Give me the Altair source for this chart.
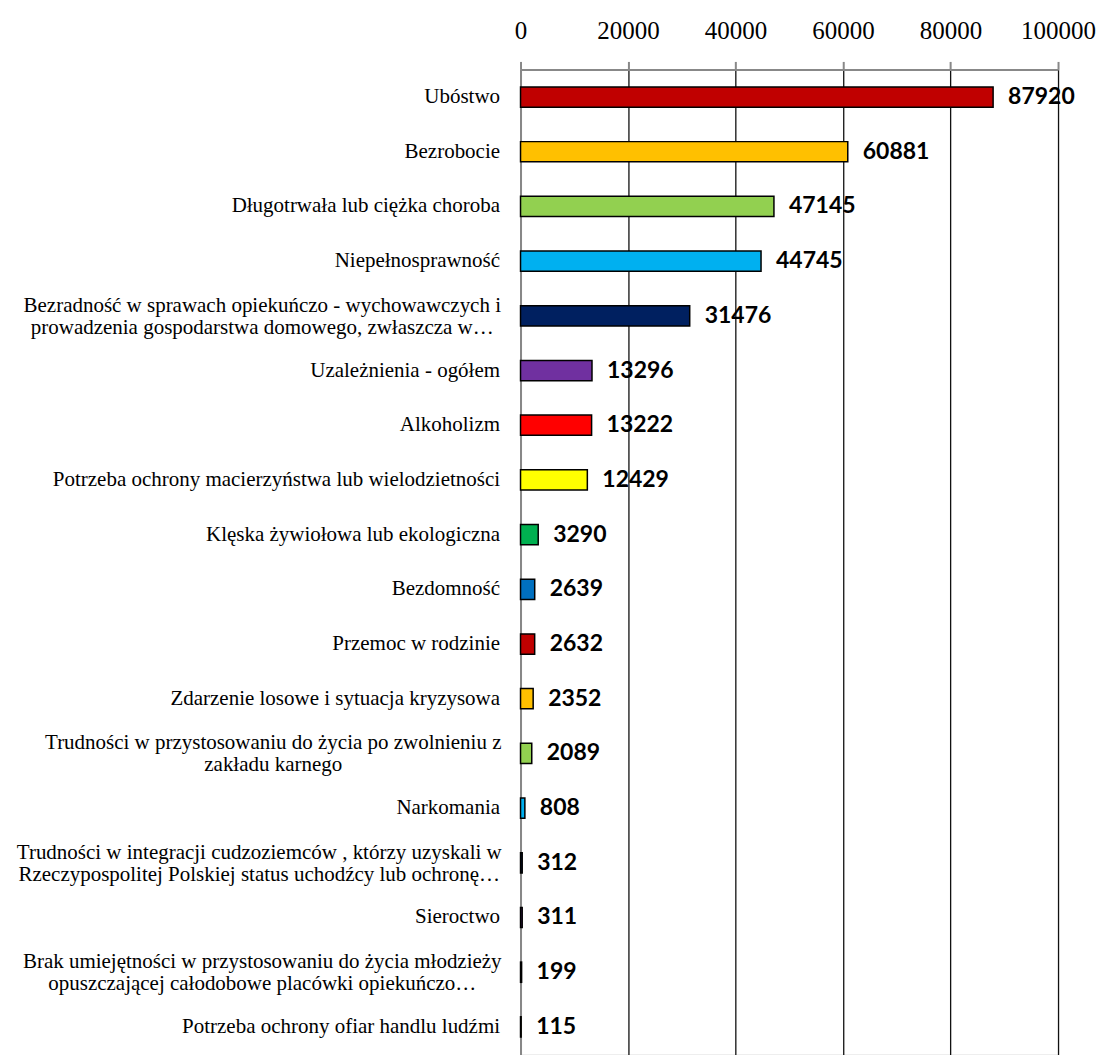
import altair as alt
import pandas as pd

categories = [
    "Ubóstwo",
    "Bezrobocie",
    "Długotrwała lub ciężka choroba",
    "Niepełnosprawność",
    "Bezradność w sprawach opiekuńczo - wychowawczych i|prowadzenia gospodarstwa domowego, zwłaszcza w…",
    "Uzależnienia - ogółem",
    "Alkoholizm",
    "Potrzeba ochrony macierzyństwa lub wielodzietności",
    "Klęska żywiołowa lub ekologiczna",
    "Bezdomność",
    "Przemoc w rodzinie",
    "Zdarzenie losowe i sytuacja kryzysowa",
    "Trudności w przystosowaniu do życia po zwolnieniu z|zakładu karnego",
    "Narkomania",
    "Trudności w integracji cudzoziemców , którzy uzyskali w|Rzeczypospolitej Polskiej status uchodźcy lub ochronę…",
    "Sieroctwo",
    "Brak umiejętności w przystosowaniu do życia młodzieży|opuszczającej całodobowe placówki opiekuńczo…",
    "Potrzeba ochrony ofiar handlu ludźmi",
]
values = [87920, 60881, 47145, 44745, 31476, 13296, 13222, 12429, 3290,
          2639, 2632, 2352, 2089, 808, 312, 311, 199, 115]
colors = ["#C00000", "#FFC000", "#92D050", "#00B0F0", "#002060", "#7030A0",
          "#FF0000", "#FFFF00", "#00B050", "#0070C0", "#C00000", "#FFC000",
          "#92D050", "#00B0F0", "#002060", "#7030A0", "#FF0000", "#FFFF00"]
x_ticks = [0, 20000, 40000, 60000, 80000, 100000]

df = pd.DataFrame({"cat": categories, "val": values, "color": colors})

multi = "indexof(datum.value, '|') >= 0"

y_enc = alt.Y(
    "cat:N",
    sort=categories,
    scale=alt.Scale(paddingInner=0.63, paddingOuter=0.32),
    axis=alt.Axis(
        title=None,
        labelExpr="split(datum.value, '|')",
        labelFont="Liberation Serif",
        labelFontSize=21,
        labelColor="#000000",
        labelLineHeight=22,
        labelAlign={"condition": {"test": multi, "value": "center"}, "value": "right"},
        labelOffset={"condition": {"test": multi, "value": -10}, "value": 0},
        labelPadding={
            "condition": [
                {"test": "indexof(datum.value, 'Bezradno') >= 0", "value": 259},
                {"test": "indexof(datum.value, 'zakładu karnego') >= 0", "value": 248},
                {"test": "indexof(datum.value, 'cudzoziemców') >= 0", "value": 262},
                {"test": "indexof(datum.value, 'młodzieży') >= 0", "value": 259},
            ],
            "value": 21,
        },
        labelLimit=600,
        ticks=False,
        domain=True,
        domainColor="#888888",
        domainWidth=2,
    ),
)
x_enc = alt.X(
    "val:Q",
    scale=alt.Scale(domain=[0, 100000], nice=False),
    axis=alt.Axis(
        orient="top",
        title=None,
        values=x_ticks,
        format="d",
        labelFont="Liberation Serif",
        labelFontSize=25,
        labelColor="#000000",
        labelPadding=18,
        labelFlush=False,
        labelOverlap=False,
        tickSize=8,
        tickColor="#888888",
        tickWidth=2,
        domainColor="#888888",
        domainWidth=2,
        grid=True,
        gridColor="#111111",
        gridWidth=1.3,
    ),
)

bars = alt.Chart(df).mark_bar(stroke="#000000", strokeWidth=1.5).encode(
    x=x_enc,
    y=y_enc,
    color=alt.Color("color:N", scale=None),
)
text = alt.Chart(df).mark_text(
    align="left", baseline="middle", dx=15, font="Lato", fontWeight="bold",
    fontSize=23, color="#000000"
).encode(
    x="val:Q",
    y=alt.Y("cat:N", sort=categories),
    text=alt.Text("val:Q", format="d"),
)

chart = (bars + text).properties(width=538, height=986).configure_view(
    stroke=None
).configure(padding={"left": 8, "top": 10, "right": 0, "bottom": 0})

chart.save("out.html", embed_options={"renderer": "svg", "actions": False})
